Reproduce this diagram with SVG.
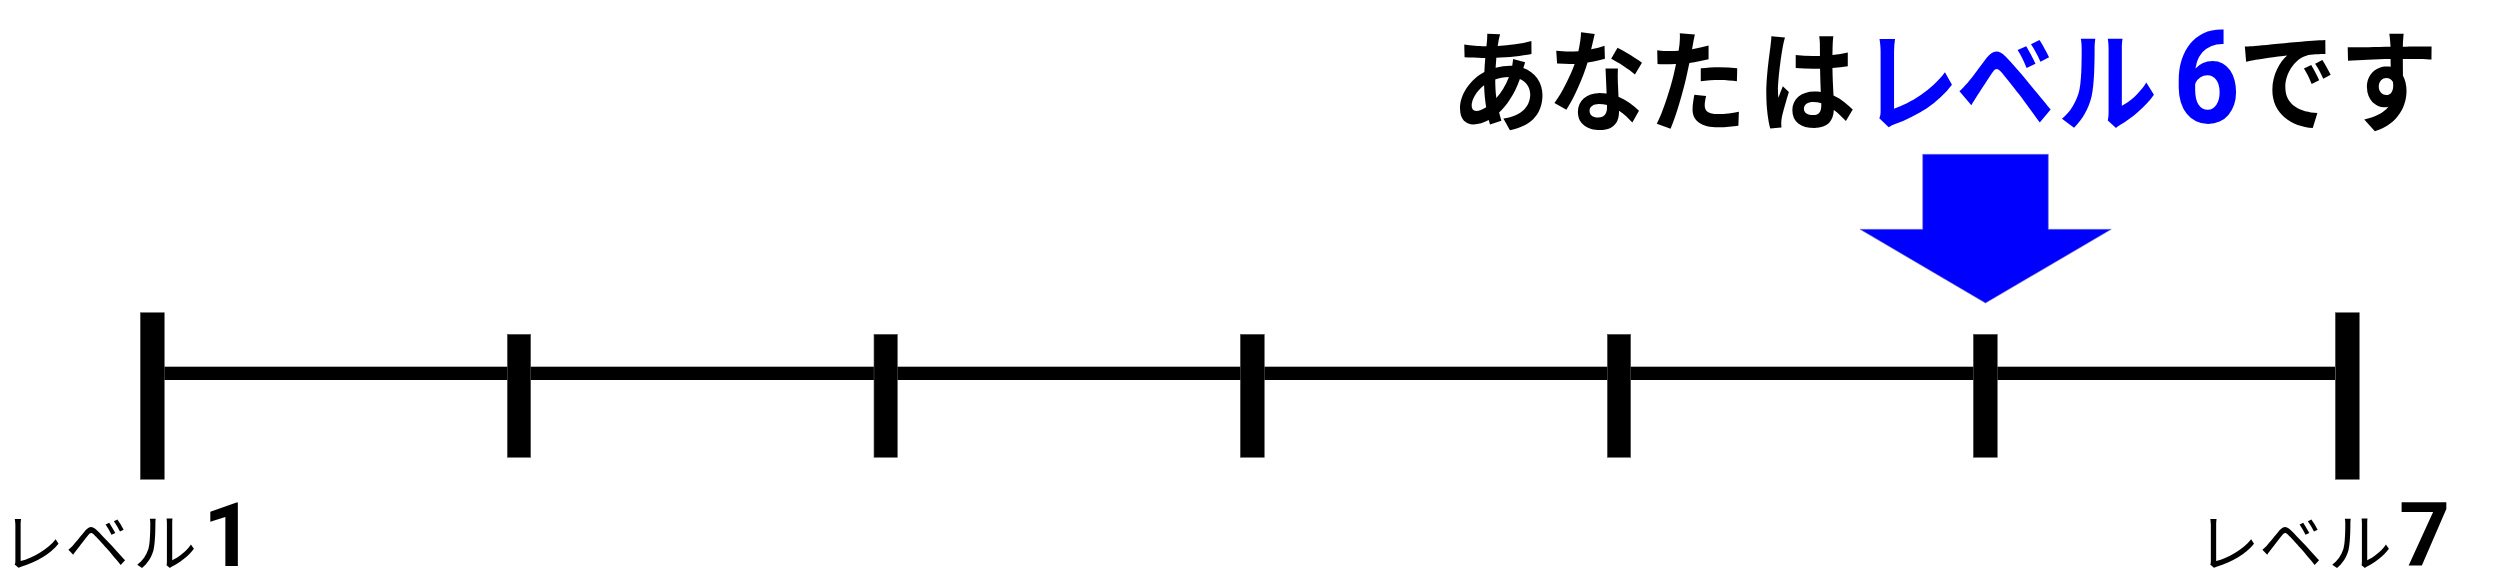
<svg xmlns="http://www.w3.org/2000/svg" width="2500" height="580" viewBox="0 0 2500 580">
<style>
.tick{fill:#000;stroke:#555;stroke-width:0.6}
.jp{font-family:"Noto Sans CJK JP","Noto Sans",sans-serif;font-weight:400}
.ttl{font-weight:700}
.num{font-family:Roboto,"Liberation Sans",Arial,sans-serif;font-weight:700}
</style>
<rect width="2500" height="580" fill="#fff"/>
<g id="connectors">
<rect x="164" y="366.7" width="2171" height="13.3" fill="#000"/>
</g>
<g id="tick1"><rect class="tick" x="140.3" y="312.7" width="24" height="166.6"/></g>
<g id="tick2"><rect class="tick" x="507.3" y="334.3" width="23.4" height="123"/></g>
<g id="tick3"><rect class="tick" x="874" y="334.3" width="23.4" height="123"/></g>
<g id="tick4"><rect class="tick" x="1240.3" y="334.3" width="24" height="123"/></g>
<g id="tick5"><rect class="tick" x="1607.3" y="334.3" width="23.4" height="123"/></g>
<g id="tick6"><rect class="tick" x="1973.3" y="334.3" width="24" height="123"/></g>
<g id="tick7"><rect class="tick" x="2335.3" y="312.7" width="24" height="166.6"/></g>
<g id="label1"><text x="0.5 65 133 203" y="566" class="num" font-size="89"><tspan class="jp" font-size="64">レベル</tspan>1</text></g>
<g id="label7"><text x="2196 2259 2328 2399" y="566" class="num" font-size="89"><tspan class="jp" font-size="64">レベル</tspan>7</text></g>
<g id="arrow"><polygon points="1922.7,154.3 2048.3,154.3 2048.3,229.3 2111.3,229.3 1985.5,303 1860,229.3 1922.7,229.3" fill="#0000ff" stroke="#7777cc" stroke-width="0.6"/></g>
<g id="title" transform="scale(0.9,1)"><text x="1612.2 1720 1831.1 1952.2 2066.7 2173.3 2286.7 2414.4 2486.7 2598.9" y="123" class="num" font-size="130"><tspan class="jp ttl" font-size="110">あなたは</tspan><tspan class="jp ttl" font-size="110" fill="#0000ff">レベル</tspan><tspan fill="#0000ff">6</tspan><tspan class="jp ttl" font-size="110">です</tspan></text></g>
</svg>
